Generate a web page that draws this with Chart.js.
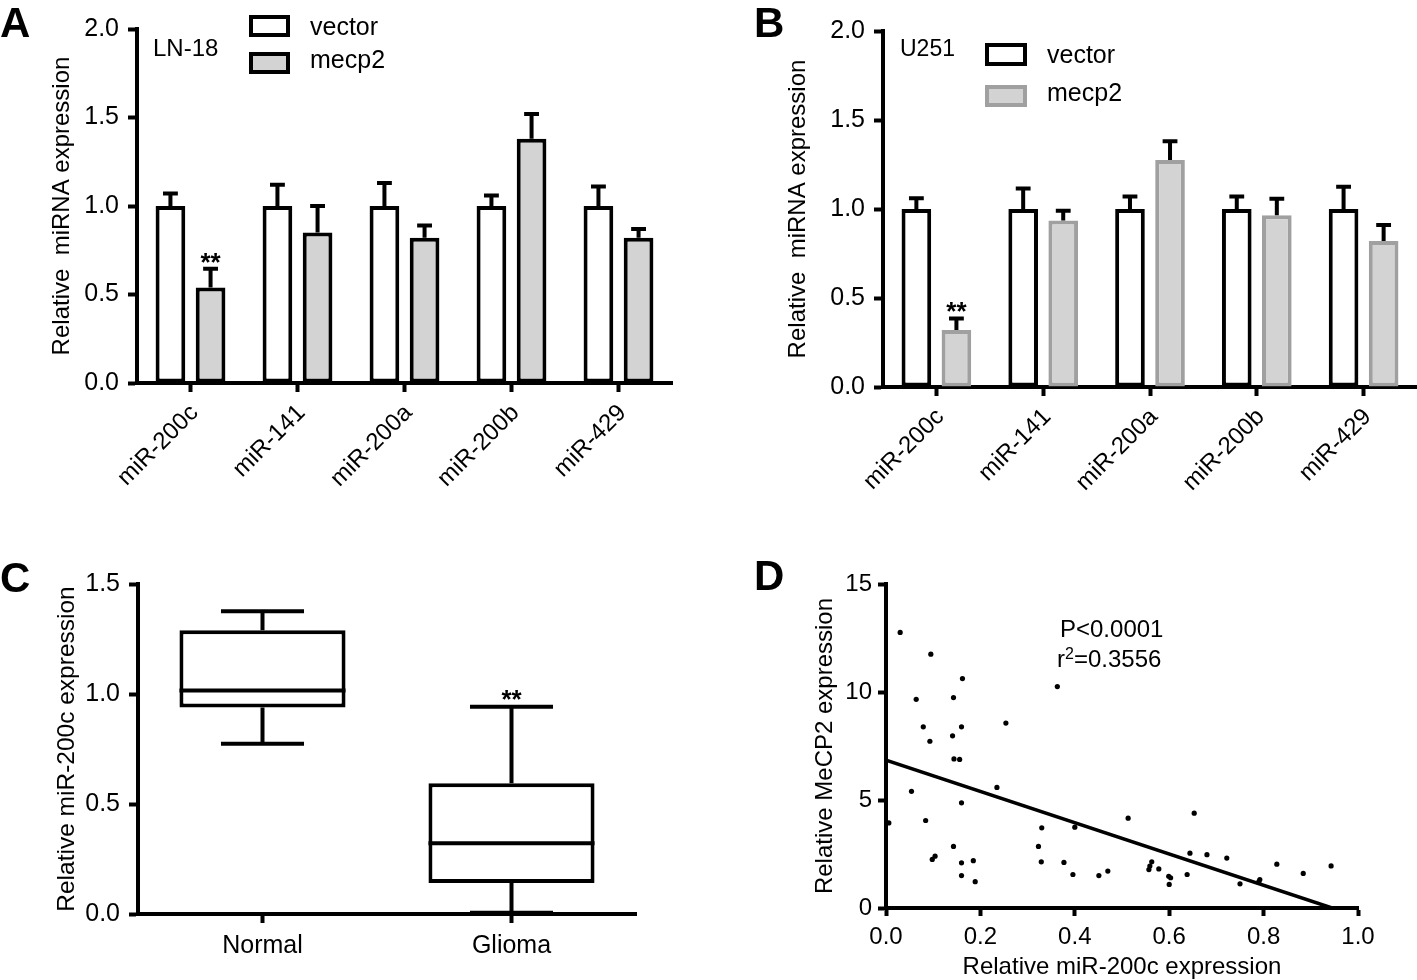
<!DOCTYPE html>
<html>
<head>
<meta charset="utf-8">
<script src="https://cdn.jsdelivr.net/npm/chart.js@4.4.0/dist/chart.umd.min.js"></script>
<style>
  body { margin: 0; background: #fff; width: 1417px; height: 980px; position: relative; overflow: hidden;
         font-family: "Liberation Sans", Arial, sans-serif; color: #000; }
  canvas { position: absolute; }
  .t { position: absolute; white-space: nowrap; line-height: 1; }
  .letter { font-weight: bold; font-size: 42px; }
  .key { position: absolute; box-sizing: border-box; border: 4px solid #000; }
</style>
</head>
<body>
<canvas id="chartA" width="700" height="500" style="left:0;top:0"></canvas>
<canvas id="chartB" width="677" height="500" style="left:740px;top:0"></canvas>
<canvas id="chartC" width="700" height="420" style="left:0;top:560px"></canvas>
<canvas id="chartD" width="657" height="420" style="left:760px;top:560px"></canvas>

<!-- panel letters -->
<div class="t letter" style="left:0;top:2px">A</div>
<div class="t letter" style="left:754px;top:2px">B</div>
<div class="t letter" style="left:0;top:557px">C</div>
<div class="t letter" style="left:754px;top:555px">D</div>

<!-- legend A -->
<div class="key" style="left:249px;top:15px;width:41px;height:22px;background:#fff"></div>
<div class="key" style="left:249px;top:52px;width:41px;height:22px;background:#d3d3d3"></div>
<div class="t" style="left:310px;top:14px;font-size:25px">vector</div>
<div class="t" style="left:310px;top:47px;font-size:25px">mecp2</div>
<div class="t" style="left:153px;top:36px;font-size:24px">LN-18</div>

<!-- legend B -->
<div class="key" style="left:985px;top:43px;width:42px;height:23px;background:#fff"></div>
<div class="key" style="left:985px;top:85px;width:42px;height:22px;background:#d3d3d3;border-color:#a0a0a0"></div>
<div class="t" style="left:1047px;top:42px;font-size:25px">vector</div>
<div class="t" style="left:1047px;top:80px;font-size:25px">mecp2</div>
<div class="t" style="left:900px;top:37px;font-size:23px">U251</div>

<!-- stats D -->
<div class="t" style="left:1060px;top:617px;font-size:24px">P&lt;0.0001</div>
<div class="t" style="left:1057px;top:646px;font-size:24px">r<sup style="font-size:16px;vertical-align:8px">2</sup>=0.3556</div>

<script>
// panels A and B: miRNA expression
const categories = ["miR-200c", "miR-141", "miR-200a", "miR-200b", "miR-429"];
const ln18Vector = [1.0, 1.0, 1.0, 1.0, 1.0];
const ln18VectorErr = [0.07, 0.12, 0.13, 0.06, 0.11];
const ln18Mecp2 = [0.54, 0.85, 0.82, 1.38, 0.82];
const ln18Mecp2Err = [0.105, 0.15, 0.07, 0.14, 0.05];
const ln18Stars = ["**", "", "", "", ""];

const u251Vector = [1.0, 1.0, 1.0, 1.0, 1.0];
const u251VectorErr = [0.06, 0.115, 0.07, 0.07, 0.125];
const u251Mecp2 = [0.32, 0.935, 1.275, 0.965, 0.82];
const u251Mecp2Err = [0.065, 0.055, 0.105, 0.093, 0.09];
const u251Stars = ["**", "", "", "", ""];

const barTicks = [0, 0.5, 1.0, 1.5, 2.0];

// panel C: box plot
const groups = ["Normal", "Glioma"];
const boxMin = [0.774, 0.006];
const boxQ1 = [0.939, 0.141];
const boxMedian = [1.016, 0.322];
const boxQ3 = [1.290, 0.594];
const boxMax = [1.376, 0.942];
const boxStars = ["", "**"];

// panel D: correlation
const mirX = [0.030, 0.095, 0.162, 0.064, 0.143, 0.363, 0.079, 0.160, 0.254, 0.093,
              0.141, 0.144, 0.156, 0.054, 0.235, 0.160, 0.006, 0.084, 0.330, 0.400,
              0.143, 0.323, 0.104, 0.098, 0.160, 0.185, 0.329, 0.377, 0.160, 0.189,
              0.396, 0.451, 0.470, 0.513, 0.653, 0.559, 0.563, 0.557, 0.578, 0.599,
              0.603, 0.600, 0.638, 0.644, 0.680, 0.722, 0.750, 0.792, 0.790, 0.828,
              0.884, 0.943];
const mecpY = [12.76, 11.75, 10.62, 9.66, 9.74, 10.25, 8.39, 8.39, 8.56, 7.72,
               7.97, 6.90, 6.88, 5.40, 5.58, 4.87, 3.94, 4.05, 3.71, 3.74,
               2.85, 2.85, 2.40, 2.25, 2.09, 2.19, 2.14, 2.11, 1.50, 1.22,
               1.55, 1.50, 1.71, 4.16, 4.39, 1.94, 2.14, 1.78, 1.81, 1.47,
               1.40, 1.09, 1.55, 2.54, 2.47, 2.31, 1.12, 1.32, 1.22, 2.03,
               1.60, 1.95];
const fitX = [0, 0.945];
const fitY = [6.85, 0];

Chart.defaults.font.family = '"Liberation Sans", Arial, sans-serif';
Chart.defaults.color = "#000";
Chart.defaults.animation = false;
Chart.defaults.plugins.legend.display = false;
Chart.defaults.plugins.tooltip.enabled = false;

const starFont = 'bold 26px "Liberation Sans", Arial, sans-serif';

// error bars (upper only) plus significance stars
const errorBars = {
  id: "errorBars",
  afterDatasetsDraw(chart) {
    const ctx = chart.ctx;
    const yScale = chart.scales.y;
    chart.data.datasets.forEach(function (ds, i) {
      if (!ds.errors) return;
      chart.getDatasetMeta(i).data.forEach(function (bar, j) {
        const top = yScale.getPixelForValue(ds.data[j] + ds.errors[j]);
        const capW = bar.width / 2;
        ctx.save();
        ctx.strokeStyle = "#000";
        ctx.lineWidth = 4;
        ctx.beginPath();
        ctx.moveTo(bar.x, bar.y);
        ctx.lineTo(bar.x, top);
        ctx.moveTo(bar.x - capW / 2, top);
        ctx.lineTo(bar.x + capW / 2, top);
        ctx.stroke();
        if (ds.stars && ds.stars[j]) {
          ctx.fillStyle = "#000";
          ctx.font = starFont;
          ctx.textAlign = "center";
          ctx.textBaseline = "alphabetic";
          ctx.fillText(ds.stars[j], bar.x, top + 2);
        }
        ctx.restore();
      });
    });
  },
};

// whiskers and median for the box plot
const boxWhiskers = {
  id: "boxWhiskers",
  afterDatasetsDraw(chart) {
    const ctx = chart.ctx;
    const y = chart.scales.y;
    chart.getDatasetMeta(0).data.forEach(function (box, j) {
      const half = box.width / 2;
      const cap = box.width / 4;
      const pMin = y.getPixelForValue(boxMin[j]);
      const pQ1 = y.getPixelForValue(boxQ1[j]);
      const pMed = y.getPixelForValue(boxMedian[j]);
      const pQ3 = y.getPixelForValue(boxQ3[j]);
      const pMax = y.getPixelForValue(boxMax[j]);
      ctx.save();
      ctx.strokeStyle = "#000";
      ctx.lineWidth = 4;
      ctx.beginPath();
      ctx.moveTo(box.x - half, pMed);
      ctx.lineTo(box.x + half, pMed);
      ctx.moveTo(box.x, pQ3);
      ctx.lineTo(box.x, pMax);
      ctx.moveTo(box.x - cap, pMax);
      ctx.lineTo(box.x + cap, pMax);
      ctx.moveTo(box.x, pQ1);
      ctx.lineTo(box.x, pMin);
      ctx.moveTo(box.x - cap, pMin);
      ctx.lineTo(box.x + cap, pMin);
      ctx.stroke();
      if (boxStars[j]) {
        ctx.fillStyle = "#000";
        ctx.font = starFont;
        ctx.textAlign = "center";
        ctx.textBaseline = "alphabetic";
        ctx.fillText(boxStars[j], box.x, pMax + 1);
      }
      ctx.restore();
    });
  },
};

function axisLine(extra) {
  return Object.assign({
    grid: { drawOnChartArea: false, tickLength: 9, tickWidth: 4, tickColor: "#000", offset: false },
    border: { color: "#000", width: 4 },
  }, extra);
}

function barChart(id, vectorVals, vectorErr, mecp2Vals, mecp2Err, stars, mecp2Border, yWidth, xHeight, pad, titlePad) {
  new Chart(document.getElementById(id), {
    type: "bar",
    data: {
      labels: categories,
      datasets: [
        {
          label: "vector", data: vectorVals, errors: vectorErr,
          backgroundColor: "#fff", borderColor: "#000", borderWidth: 4, borderSkipped: false,
          categoryPercentage: 0.75, barPercentage: 0.74,
        },
        {
          label: "mecp2", data: mecp2Vals, errors: mecp2Err, stars: stars,
          backgroundColor: "#d3d3d3", borderColor: mecp2Border, borderWidth: 4, borderSkipped: false,
          categoryPercentage: 0.75, barPercentage: 0.74,
        },
      ],
    },
    options: {
      responsive: false,
      layout: { padding: pad },
      scales: {
        x: axisLine({
          ticks: { font: { size: 24 }, minRotation: 45, maxRotation: 45, autoSkip: false, padding: 7, labelOffset: 4 },
          afterFit: function (s) { s.height = xHeight; },
        }),
        y: axisLine({
          min: 0, max: 2,
          afterBuildTicks: function (s) { s.ticks = barTicks.map(function (v) { return { value: v }; }); },
          ticks: { font: { size: 25 }, padding: 9, callback: function (v) { return v.toFixed(1); } },
          title: { display: true, text: "Relative  miRNA expression", font: { size: 24 }, padding: { top: titlePad, bottom: 0 } },
          afterFit: function (s) { s.width = yWidth; },
        }),
      },
    },
    plugins: [errorBars],
  });
}

barChart("chartA", ln18Vector, ln18VectorErr, ln18Mecp2, ln18Mecp2Err, ln18Stars, "#000",
  137, 117, { left: 0, top: 29, right: 28, bottom: 0 }, 48);
barChart("chartB", u251Vector, u251VectorErr, u251Mecp2, u251Mecp2Err, u251Stars, "#a0a0a0",
  143, 113, { left: 0, top: 31, right: 0, bottom: 0 }, 44);

// C: box plot
new Chart(document.getElementById("chartC"), {
  type: "bar",
  data: {
    labels: groups,
    datasets: [{
      data: groups.map(function (g, i) { return [boxQ1[i], boxQ3[i]]; }),
      backgroundColor: "#fff", borderColor: "#000", borderWidth: 4, borderSkipped: false,
      categoryPercentage: 1, barPercentage: 0.667,
    }],
  },
  options: {
    responsive: false,
    layout: { padding: { left: 0, top: 19, right: 64, bottom: 0 } },
    scales: {
      x: axisLine({
        ticks: { font: { size: 25 }, padding: 8 },
        afterFit: function (s) { s.height = 66; },
      }),
      y: axisLine({
        min: 0, max: 1.5,
        ticks: { stepSize: 0.5, font: { size: 25 }, padding: 9, callback: function (v) { return v.toFixed(1); } },
        title: { display: true, text: "Relative miR-200c expression", font: { size: 24.5 }, padding: { top: 53, bottom: 0 } },
        afterFit: function (s) { s.width = 138; },
      }),
    },
  },
  plugins: [boxWhiskers],
});

// D: scatter with regression line
new Chart(document.getElementById("chartD"), {
  type: "scatter",
  data: {
    datasets: [
      {
        data: mirX.map(function (x, i) { return { x: x, y: mecpY[i] }; }),
        pointRadius: 2.6, backgroundColor: "#000", borderWidth: 0, clip: 6,
      },
      {
        type: "line",
        data: fitX.map(function (x, i) { return { x: x, y: fitY[i] }; }),
        borderColor: "#000", borderWidth: 3.5, pointRadius: 0, fill: false,
      },
    ],
  },
  options: {
    responsive: false,
    layout: { padding: { left: 0, top: 24, right: 59, bottom: 0 } },
    scales: {
      x: axisLine({
        type: "linear", min: 0, max: 1,
        grid: { drawOnChartArea: false, tickLength: 8, tickWidth: 4, tickColor: "#000" },
        ticks: { stepSize: 0.2, font: { size: 24 }, padding: 7, callback: function (v) { return v.toFixed(1); } },
        title: { display: true, text: "Relative miR-200c expression", font: { size: 24 }, padding: { top: 0, bottom: -2 } },
        afterFit: function (s) { s.height = 72; },
      }),
      y: axisLine({
        min: 0, max: 15,
        grid: { drawOnChartArea: false, tickLength: 8, tickWidth: 4, tickColor: "#000" },
        ticks: { stepSize: 5, font: { size: 24 }, padding: 6 },
        title: { display: true, text: "Relative MeCP2 expression", font: { size: 24 }, padding: { top: 51, bottom: 0 } },
        afterFit: function (s) { s.width = 126; },
      }),
    },
  },
});
</script>
</body>
</html>
